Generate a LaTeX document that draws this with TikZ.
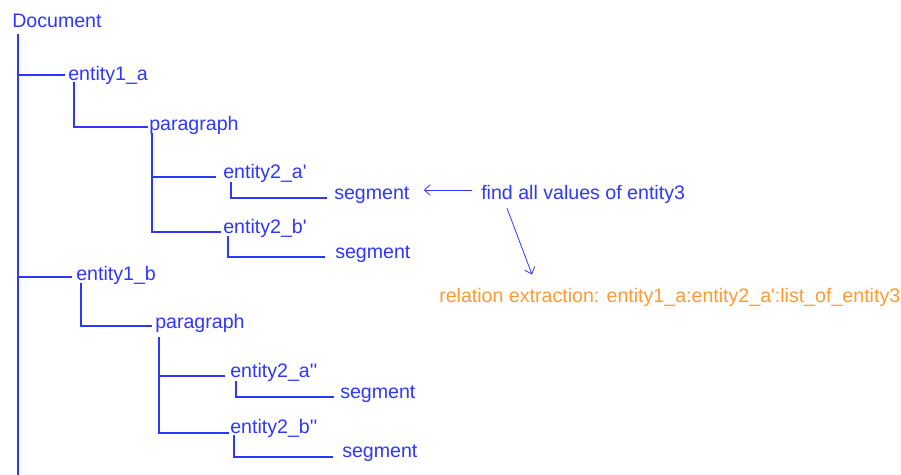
\documentclass[tikz,border=0pt]{standalone}
\usepackage{fontspec}
\setmainfont{Liberation Sans}
\usepackage{tikz}
\usetikzlibrary{arrows.meta,calc}
\definecolor{treeColor}{RGB}{45,55,255}
\definecolor{relColor}{RGB}{255,153,51}

\begin{document}
\begin{tikzpicture}[
x=0.75pt,y=-0.75pt,
label/.style={anchor=base west,inner sep=0pt,text depth=3pt,text=treeColor,font=\fontsize{14.7}{17}\selectfont},
branch/.style={draw=treeColor,line width=0.8pt},
hint/.style={draw=treeColor,line width=0.6pt,-{Straight Barb[length=4.5pt,width=8pt]}},
]
\useasboundingbox (0,0) rectangle (901,475);
% tree labels
\node[label] (doc)   at (12,27)  {Document};
\node[label] (ent1a) at (68,80)  {entity1\_a};
\node[label] (par1)  at (149,130) {paragraph};
\node[label] (e2a1)  at (223,178) {entity2\_a\textquotesingle};
\node[label] (seg1)  at (334,199) {segment};
\node[label] (e2b1)  at (223,233) {entity2\_b\textquotesingle};
\node[label] (seg2)  at (335,258) {segment};
\node[label] (ent1b) at (76,280)  {entity1\_b};
\node[label] (par2)  at (155,328) {paragraph};
\node[label] (e2a2)  at (230,377) {entity2\_a\textquotesingle\textquotesingle};
\node[label] (seg3)  at (340,398) {segment};
\node[label] (e2b2)  at (230,433) {entity2\_b\textquotesingle\textquotesingle};
\node[label] (seg4)  at (342,457) {segment};
\coordinate (docend) at (18,476);
% notes
\node[label] (find) at (481,199) {find all values of entity3};
\node[label,text=relColor] (rel) at (439,302) {relation extraction: entity1\_a:entity2\_a\textquotesingle:list\_of\_entity3};
% branches
\path[branch]
    ($(doc.south west)+(6,3)$) -- (docend)
    ($(doc.south west)+(6,3)$) |- ($(ent1a.base west)+(-3,-5)$)
    ($(doc.south west)+(6,3)$) |- ($(ent1b.base west)+(-4,-3)$)
    ($(ent1a.south west)+(6,-2)$) |- ($(par1.base west)+(-1,-3)$)
    ($(par1.south west)+(3,-1)$) |- ($(e2a1.base west)+(-7,-1)$)
    ($(par1.south west)+(3,-1)$) |- ($(e2b1.base west)+(-2,-1)$)
    ($(e2a1.south west)+(8,0)$) |- ($(seg1.base west)+(-7,-1)$)
    ($(e2b1.south west)+(5,-1)$) |- ($(seg2.base west)+(-10,-1)$)
    ($(ent1b.south west)+(5,-1)$) |- ($(par2.base west)+(-3,-2)$)
    ($(par2.south west)+(4,5)$) |- ($(e2a2.base west)+(-5,-1)$)
    ($(par2.south west)+(4,5)$) |- ($(e2b2.base west)+(-1,0)$)
    ($(e2a2.south west)+(6,0)$) |- ($(seg3.base west)+(-6,-1)$)
    ($(e2b2.south west)+(4,-2)$) |- ($(seg4.base west)+(-9,0)$);
% arrows
\draw[hint] ($(find.base west)+(-9,-9)$) -- ($(seg1.base east)+(14,-9)$);
\draw[hint] ($(find.south west)+(26,5)$) -- ($(rel.north west)+(93,-13)$);
\end{tikzpicture}
\end{document}
